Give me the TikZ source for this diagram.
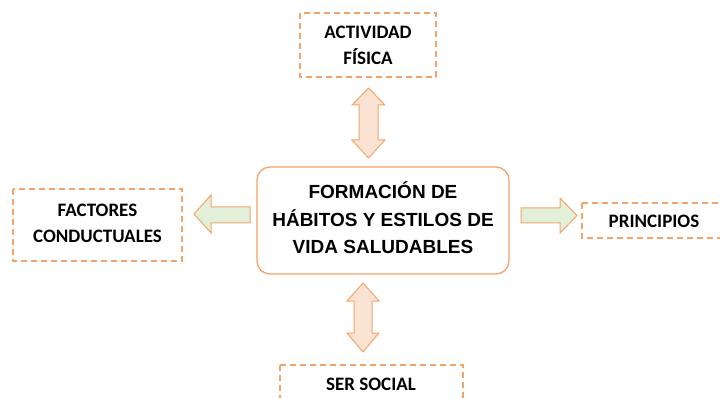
\documentclass[tikz,border=0pt]{standalone}
\usepackage{fontspec}
\setmainfont{Carlito}
\newfontfamily\arialfont{Liberation Sans}
\definecolor{dashor}{HTML}{F4A46A}
\definecolor{boxor}{HTML}{F4A46A}
\definecolor{arrfill}{HTML}{FBE3D3}
\definecolor{arrline}{HTML}{F4A46A}
\definecolor{grfill}{HTML}{E2EFD9}
\tikzset{
  dashbox/.style={draw=dashor, line width=1.2pt, dash pattern=on 6pt off 4pt},
  lbl/.style={font=\fontsize{19}{26}\selectfont\bfseries, align=center, text=black},
  orarrow/.style={draw=arrline, fill=arrfill, line width=1pt, line join=miter},
  grarrow/.style={draw=arrline, fill=grfill, line width=1pt, line join=miter}
}
\begin{document}
\begin{tikzpicture}[x=1pt,y=-1pt]
\useasboundingbox (0,0) rectangle (720,398);
\clip (0,0) rectangle (720,398);
% center box
\draw[draw=boxor, line width=1.3pt, rounded corners=13pt] (257,167) rectangle (509,274);
\node[font=\arialfont\fontsize{19}{27.5}\selectfont\bfseries, align=center] (center) at (383,218)
  {FORMACIÓN DE\\HÁBITOS Y ESTILOS DE\\VIDA SALUDABLES};
% top box
\draw[dashbox] (300,13) rectangle (436,77);
\node[lbl] (top) at (368,45) {ACTIVIDAD\\FÍSICA};
% left box
\draw[dashbox] (13,189) rectangle (182,261);
\node[lbl] (left) at (97.5,223) {FACTORES\\CONDUCTUALES};
% right box
\draw[dashbox] (582,203) rectangle (730,238);
\node[lbl] (right) at (654,221) {PRINCIPIOS};
% bottom box
\draw[dashbox] (280,365) rectangle (463,410);
\node[lbl] (bottom) at (371,384) {SER SOCIAL};
% top double arrow
\draw[orarrow] (368.5,88) -- (385,105) -- (378,105) -- (378,140) -- (385,140) -- (368.5,158)
  -- (352,140) -- (359,140) -- (359,105) -- (352,105) -- cycle;
% bottom double arrow
\draw[orarrow] (363,283) -- (379,301) -- (372,301) -- (372,333) -- (379,333) -- (363,352)
  -- (347,333) -- (354,333) -- (354,301) -- (347,301) -- cycle;
% left arrow
\draw[grarrow] (194,214) -- (211,195) -- (211,207) -- (250,207) -- (250,223) -- (211,223) -- (211,233) -- cycle;
% right arrow
\draw[grarrow] (577,215.5) -- (560,198) -- (560,208) -- (521,208) -- (521,223) -- (560,223) -- (560,233) -- cycle;
\end{tikzpicture}
\end{document}
